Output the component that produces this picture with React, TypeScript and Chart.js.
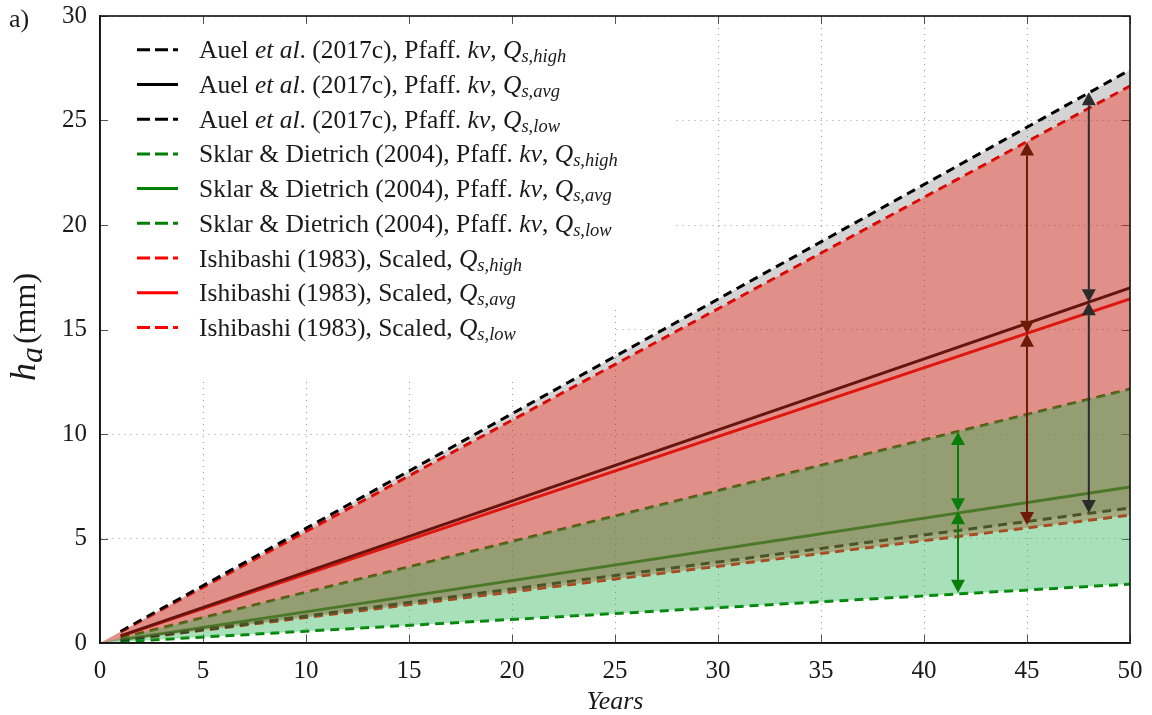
import React, { useEffect, useRef } from 'react';
import { Chart, registerables } from 'chart.js';

Chart.register(...registerables);

// ---------------- data ----------------
const lineYears = [1, 50];
const fillOriginYear = 0;
const fillOriginValue = 0;

const auelHigh = [0.55, 27.42];
const auelAvg = [0.34, 16.99];
const auelLow = [0.13, 6.46];
const sklarHigh = [0.24, 12.15];
const sklarAvg = [0.15, 7.46];
const sklarLow = [0.06, 2.82];
const ishiHigh = [0.53, 26.65];
const ishiAvg = [0.33, 16.46];
const ishiLow = [0.12, 6.12];

// double-headed arrows: x position, upper tip, lower tip
const arrowYears = [41.65, 41.65, 45, 45, 48, 48];
const arrowTops = [10.1, 6.3, 23.95, 14.8, 26.35, 16.3];
const arrowBottoms = [6.3, 2.4, 14.8, 5.65, 16.3, 6.22];
const arrowGroups = ['sklar', 'sklar', 'ishi', 'ishi', 'auel', 'auel'];

const xMin = 0, xMax = 50, xStep = 5;
const yMin = 0, yMax = 30, yStep = 5;

type Seg = { t: string; it?: boolean; sub?: boolean };

const auelText = (q: string): Seg[] => [
  { t: 'Auel ' }, { t: 'et al', it: true }, { t: '. (2017c), Pfaff. ' }, { t: 'kv', it: true }, { t: ', ' },
  { t: 'Q', it: true }, { t: q, it: true, sub: true },
];
const sklarText = (q: string): Seg[] => [
  { t: 'Sklar & Dietrich (2004), Pfaff. ' }, { t: 'kv', it: true }, { t: ', ' },
  { t: 'Q', it: true }, { t: q, it: true, sub: true },
];
const ishiText = (q: string): Seg[] => [
  { t: 'Ishibashi (1983), Scaled, ' }, { t: 'Q', it: true }, { t: q, it: true, sub: true },
];

// ---------------- styles ----------------
const FONT = '"Liberation Serif", "Times New Roman", serif';
const TEXT = '#1a1a1a';
const COLORS = { auel: '#000000', sklar: '#008000', ishi: '#ff0000' };
const ARROW_COLORS: Record<string, string> = { sklar: '#0b7d0b', ishi: '#6e1a06', auel: '#2b2b2b' };
const PLOT_DASH = [9, 6];
const LEGEND_DASH = [13, 5];

const series = [
  { name: 'auelHigh', values: auelHigh, color: COLORS.auel, dashed: true, label: auelText('s,high') },
  { name: 'auelAvg', values: auelAvg, color: COLORS.auel, dashed: false, label: auelText('s,avg') },
  { name: 'auelLow', values: auelLow, color: COLORS.auel, dashed: true, label: auelText('s,low') },
  { name: 'sklarHigh', values: sklarHigh, color: COLORS.sklar, dashed: true, label: sklarText('s,high') },
  { name: 'sklarAvg', values: sklarAvg, color: COLORS.sklar, dashed: false, label: sklarText('s,avg') },
  { name: 'sklarLow', values: sklarLow, color: COLORS.sklar, dashed: true, label: sklarText('s,low') },
  { name: 'ishiHigh', values: ishiHigh, color: COLORS.ishi, dashed: true, label: ishiText('s,high') },
  { name: 'ishiAvg', values: ishiAvg, color: COLORS.ishi, dashed: false, label: ishiText('s,avg') },
  { name: 'ishiLow', values: ishiLow, color: COLORS.ishi, dashed: true, label: ishiText('s,low') },
];

const bands = [
  { top: auelHigh, bottom: auelLow, color: 'rgba(0,0,0,0.17)', order: 2 },
  { top: ishiHigh, bottom: ishiLow, color: 'rgba(240,50,30,0.42)', order: 1 },
  { top: sklarHigh, bottom: sklarLow, color: 'rgba(37,177,82,0.40)', order: 0 },
];

const toPoints = (vals: number[]) => vals.map((v, i) => ({ x: lineYears[i], y: v }));
const toFillPoints = (vals: number[]) => [{ x: fillOriginYear, y: fillOriginValue }, ...toPoints(vals)];

function buildDatasets() {
  const ds: any[] = series.map((s) => ({
    label: s.name,
    data: toPoints(s.values),
    borderColor: s.color,
    borderWidth: 3,
    borderDash: s.dashed ? PLOT_DASH : [],
    borderCapStyle: 'butt',
    pointRadius: 0,
    fill: false,
    order: 3,
  }));
  bands.forEach((b) => {
    const topIndex = ds.length;
    ds.push({
      label: 'bandTop',
      data: toFillPoints(b.top),
      borderWidth: 0,
      borderColor: 'rgba(0,0,0,0)',
      backgroundColor: b.color,
      pointRadius: 0,
      fill: { target: topIndex + 1 },
      order: b.order,
    });
    ds.push({
      label: 'bandBottom',
      data: toFillPoints(b.bottom),
      borderWidth: 0,
      borderColor: 'rgba(0,0,0,0)',
      backgroundColor: 'rgba(0,0,0,0)',
      pointRadius: 0,
      fill: false,
      order: b.order,
    });
  });
  return ds;
}

function drawRich(ctx: CanvasRenderingContext2D, segs: Seg[], x: number, y: number, size: number, subSize: number, subDrop: number) {
  let cx = x;
  for (const s of segs) {
    const fs = s.sub ? subSize : size;
    ctx.font = `${s.it ? 'italic ' : ''}${fs}px ${FONT}`;
    ctx.fillText(s.t, cx, s.sub ? y + subDrop : y);
    cx += ctx.measureText(s.t).width;
  }
  return cx - x;
}

const framePlugin = {
  id: 'frame',
  beforeDatasetsDraw(chart: any) {
    const { ctx, chartArea: a, scales } = chart;
    ctx.save();
    // white area behind the legend hides the grid
    ctx.fillStyle = '#ffffff';
    ctx.fillRect(a.left + 1, a.top + 1, 613 - a.left - 1, 379 - a.top - 1);
    ctx.fillRect(613, a.top + 1, 673 - 613, 307 - a.top - 1);
    // inward ticks on all four sides
    ctx.strokeStyle = '#555';
    ctx.lineWidth = 1;
    const tl = 8;
    scales.x.ticks.forEach((t: any) => {
      const px = Math.round(scales.x.getPixelForValue(t.value)) + 0.5;
      ctx.beginPath();
      ctx.moveTo(px, a.bottom); ctx.lineTo(px, a.bottom - tl);
      ctx.moveTo(px, a.top); ctx.lineTo(px, a.top + tl);
      ctx.stroke();
    });
    scales.y.ticks.forEach((t: any) => {
      const py = Math.round(scales.y.getPixelForValue(t.value)) + 0.5;
      ctx.beginPath();
      ctx.moveTo(a.left, py); ctx.lineTo(a.left + tl, py);
      ctx.moveTo(a.right, py); ctx.lineTo(a.right - tl, py);
      ctx.stroke();
    });
    ctx.restore();
  },
  afterDatasetsDraw(chart: any) {
    const { ctx, chartArea: a, scales } = chart;
    ctx.save();
    // arrows
    const head = 13, half = 7;
    arrowYears.forEach((yr, i) => {
      const px = scales.x.getPixelForValue(yr);
      const p1 = scales.y.getPixelForValue(arrowTops[i]);
      const p2 = scales.y.getPixelForValue(arrowBottoms[i]);
      const col = ARROW_COLORS[arrowGroups[i]];
      ctx.strokeStyle = col;
      ctx.fillStyle = col;
      ctx.lineWidth = 2;
      ctx.beginPath();
      ctx.moveTo(px, p1 + head); ctx.lineTo(px, p2 - head);
      ctx.stroke();
      ctx.beginPath();
      ctx.moveTo(px, p1); ctx.lineTo(px - half, p1 + head); ctx.lineTo(px + half, p1 + head); ctx.closePath();
      ctx.fill();
      ctx.beginPath();
      ctx.moveTo(px, p2); ctx.lineTo(px - half, p2 - head); ctx.lineTo(px + half, p2 - head); ctx.closePath();
      ctx.fill();
    });
    // frame box
    ctx.strokeStyle = '#111';
    ctx.lineWidth = 1.6;
    ctx.strokeRect(a.left, a.top, a.right - a.left, a.bottom - a.top);
    ctx.restore();
  },
  afterDraw(chart: any) {
    const { ctx } = chart;
    ctx.save();
    ctx.fillStyle = TEXT;
    ctx.textBaseline = 'alphabetic';
    ctx.textAlign = 'left';
    // panel letter
    ctx.font = `26px ${FONT}`;
    ctx.fillText('a)', 9, 27);
    // legend
    const rowH = 34.7;
    const baseY = 58.3;
    series.forEach((s, i) => {
      const by = baseY + i * rowH;
      const ly = by - 8.5;
      ctx.strokeStyle = s.color;
      ctx.lineWidth = 3;
      ctx.setLineDash(s.dashed ? LEGEND_DASH : []);
      ctx.beginPath();
      ctx.moveTo(137, ly); ctx.lineTo(178, ly);
      ctx.stroke();
      ctx.setLineDash([]);
      ctx.fillStyle = TEXT;
      drawRich(ctx, s.label, 199, by, 25.5, 18.5, 4);
    });
    // y-axis title h_a (mm)
    const ySegs = [
      { t: 'h', it: true, size: 36, sub: false, gap: 0 },
      { t: 'a', it: true, size: 32, sub: true, gap: 3 },
      { t: '(mm)', it: false, size: 32, sub: false, gap: 0 },
    ];
    let total = 0;
    for (const s of ySegs) {
      ctx.font = `${s.it ? 'italic ' : ''}${s.size}px ${FONT}`;
      total += ctx.measureText(s.t).width + s.gap;
    }
    ctx.translate(35, 327);
    ctx.rotate(-Math.PI / 2);
    let cx = -total / 2;
    for (const s of ySegs) {
      ctx.font = `${s.it ? 'italic ' : ''}${s.size}px ${FONT}`;
      ctx.fillText(s.t, cx, s.sub ? 7 : 0);
      cx += ctx.measureText(s.t).width + s.gap;
    }
    ctx.restore();
  },
};

export default function App() {
  const ref = useRef<HTMLCanvasElement>(null);
  useEffect(() => {
    const chart = new Chart(ref.current as HTMLCanvasElement, {
      type: 'line',
      data: { datasets: buildDatasets() },
      options: {
        animation: false,
        responsive: false,
        events: [],
        layout: { padding: { top: 16, right: 22, left: 0, bottom: 0 } },
        plugins: {
          legend: { display: false },
          tooltip: { enabled: false },
          filler: { drawTime: 'beforeDatasetDraw' },
        },
        scales: {
          x: {
            type: 'linear',
            min: xMin,
            max: xMax,
            ticks: { stepSize: xStep, font: { family: FONT, size: 25 }, color: TEXT, padding: 13, maxRotation: 0, autoSkip: false },
            grid: { color: '#9a9a9a', lineWidth: 1, drawTicks: false },
            border: { display: true, color: '#111', width: 1.6, dash: [1, 5] },
            title: { display: true, text: 'Years', font: { family: FONT, size: 26, style: 'italic', lineHeight: 1 }, color: TEXT, padding: { top: 0, bottom: 0 } },
            afterFit: (s: any) => { s.height = 72; s.paddingLeft = 0; s.paddingRight = 0; },
          },
          y: {
            type: 'linear',
            min: yMin,
            max: yMax,
            ticks: { stepSize: yStep, font: { family: FONT, size: 25 }, color: TEXT, padding: 13 },
            grid: { color: '#9a9a9a', lineWidth: 1, drawTicks: false },
            border: { display: true, color: '#111', width: 1.6, dash: [1, 5] },
            afterFit: (s: any) => { s.width = 100; s.paddingTop = 0; s.paddingBottom = 0; },
          },
        },
      } as any,
      plugins: [framePlugin],
    });
    return () => chart.destroy();
  }, []);
  return (
    <div style={{ position: 'absolute', left: 0, top: 0, width: 1152, height: 715, background: '#ffffff' }}>
      <canvas ref={ref} width={1152} height={715} style={{ display: 'block', width: 1152, height: 715 }} />
    </div>
  );
}
